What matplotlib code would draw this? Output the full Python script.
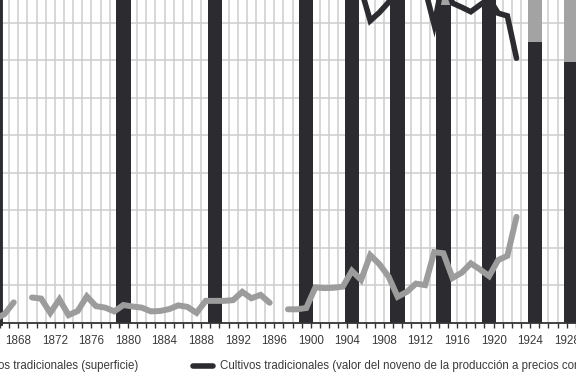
import numpy as np
import matplotlib
matplotlib.use("Agg")
import matplotlib.pyplot as plt
from matplotlib.lines import Line2D

plt.rcParams['font.family'] = ['Liberation Sans', 'DejaVu Sans']

# superficie (gris), 1866-1923, NaN = sin dato
sup_years = list(range(1866, 1924))
sup_vals = [1.1, 2.4, 5.5, np.nan, 6.8, 6.5, 2.7, 6.3, 2.1, 3.2,
            7.1, 4.5, 4.1, 3.1, 4.8, 4.4, 4.1, 3.1, 3.2, 3.7,
            4.7, 4.3, 2.7, 5.9, 5.9, 5.9, 6.1, 8.3, 6.6, 7.5,
            5.4, np.nan, 3.65, 3.65, 4.0, 9.5, 9.3, 9.4, 9.7, 13.9,
            11.5, 18.1, 15.7, 12.4, 7.0, 8.3, 10.5, 10.1, 18.9, 18.6,
            12.0, 13.4, 15.9, 14.3, 12.5, 16.8, 17.9, 28.3]

# valor del noveno (negro)
nov_years = list(range(1904, 1924))
nov_vals = [95, 93, 89, 80.6, 82.8, 85.5, 90, 92, 91, 89,
            79.5, 92, 85.3, 84.2, 83.0, 84.8, 86.5, 82.6, 81.9, 70.6]

# barras apiladas
bar_years = [1880, 1890, 1900, 1905, 1910, 1915, 1920, 1925, 1929]
bar_dark = [100, 100, 100, 100, 100, 84.8, 100, 74.9, 69.7]
bar_light = [10, 10, 10, 10, 10, 15, 10, 20, 25]

label_years = list(range(1868, 1929, 4))

dark = '#2b2b30'
grey = '#9c9c9c'

fig = plt.figure(figsize=(5.76, 3.79), dpi=100)
ax = fig.add_axes([0, 56/379, 1, 323/379])

ax.bar(bar_years, bar_dark, width=1.58, color=dark, zorder=2)
ax.bar(bar_years, bar_light, width=1.58, bottom=bar_dark, color='#a3a3a3', zorder=2)

ax.plot(sup_years, sup_vals, color=grey, lw=4.3, solid_capstyle='round',
        solid_joinstyle='miter', zorder=3)
ax.plot(nov_years, nov_vals, color=dark, lw=4.0, solid_capstyle='round',
        solid_joinstyle='miter', zorder=4)

ax.set_xlim(1866.667, 1929.51)
ax.set_ylim(0, 86.13)

ax.set_xticks(np.array(label_years) + 0.5)
ax.set_xticklabels([str(y) for y in label_years])
ax.set_xticks(np.arange(1866, 1930) + 0.5, minor=True)
ax.set_yticks(np.arange(10, 90, 10))
ax.tick_params(axis='x', which='both', direction='out', length=3.5, width=1,
               color='#333333', labelsize=8.4, labelcolor='#3a3a3a', pad=5.5)
ax.tick_params(axis='y', left=False, labelleft=False)

ax.grid(True, axis='x', which='both', color='#cdcdcd', lw=1.1, zorder=0)
ax.grid(True, axis='y', which='major', color='#cdcdcd', lw=1.1, zorder=0)
ax.set_axisbelow(True)

for s in ['top', 'right']:
    ax.spines[s].set_visible(False)
ax.spines['bottom'].set_color('#333333')
ax.spines['bottom'].set_linewidth(1.3)
ax.spines['left'].set_color(dark)
ax.spines['left'].set_linewidth(3.5)

# leyenda (recortada como en el original)
ly = (379 - 366) / 379
fig.text(138/576, ly, 'Cultivos tradicionales (superficie)', ha='right', va='center',
         fontsize=8.3, color='#3a3a3a')
fig.add_artist(Line2D([193/576, 213/576], [ly, ly], color=dark, lw=4.0,
                      solid_capstyle='round', transform=fig.transFigure))
fig.text(220/576, ly, 'Cultivos tradicionales (valor del noveno de la producción a precios corrientes)',
         ha='left', va='center', fontsize=8.3, color='#3a3a3a')

fig.savefig('out.png', dpi=100)
